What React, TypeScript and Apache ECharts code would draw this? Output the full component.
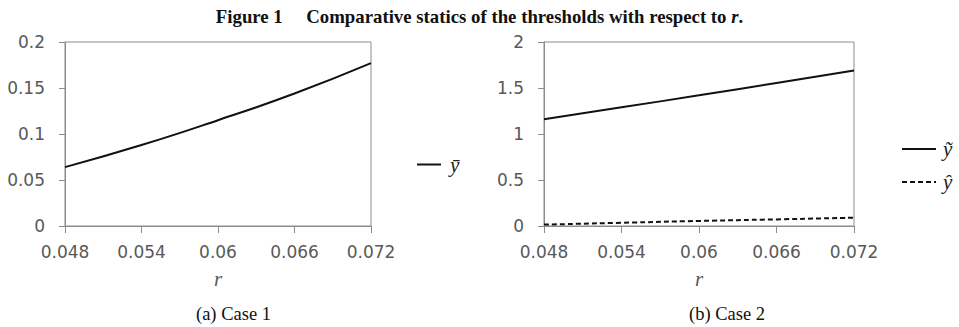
import React, { useEffect, useRef } from "react";
import * as echarts from "echarts";

const rTicks = ["0.048", "0.054", "0.06", "0.066", "0.072"];
const yBarValues = [0.064, 0.088, 0.115, 0.144, 0.177];
const yTildeValues = [1.16, 1.29, 1.42, 1.555, 1.69];
const yHatValues = [0.015, 0.035, 0.055, 0.072, 0.09];
const leftYTicks = { min: 0, max: 0.2, interval: 0.05 };
const rightYTicks = { min: 0, max: 2, interval: 0.5 };

const AXIS_COLOR = "#8c8c8c";
const LABEL_COLOR = "#595959";
const LINE_COLOR = "#111111";

function xAxisFor(gridIndex: number) {
  return {
    type: "category",
    gridIndex,
    data: rTicks,
    boundaryGap: false,
    name: "r",
    nameLocation: "middle",
    nameGap: 42,
    nameTextStyle: {
      fontFamily: "Liberation Serif",
      fontStyle: "italic",
      fontSize: 21,
      color: LABEL_COLOR,
    },
    axisLine: { show: true, lineStyle: { color: AXIS_COLOR, width: 1 } },
    axisTick: { show: true, length: 7, lineStyle: { color: AXIS_COLOR } },
    axisLabel: {
      fontFamily: "DejaVu Sans",
      fontSize: 17,
      color: LABEL_COLOR,
      margin: 17,
    },
    splitLine: { show: false },
  };
}

function yAxisFor(gridIndex: number, t: { min: number; max: number; interval: number }) {
  return {
    type: "value",
    gridIndex,
    min: t.min,
    max: t.max,
    interval: t.interval,
    axisLine: { show: true, lineStyle: { color: AXIS_COLOR, width: 1 } },
    axisTick: { show: true, length: 6, lineStyle: { color: AXIS_COLOR } },
    axisLabel: {
      fontFamily: "DejaVu Sans",
      fontSize: 17,
      color: LABEL_COLOR,
      margin: 20,
      formatter: (v: number) => String(parseFloat(v.toFixed(4))),
    },
    splitLine: { show: false },
  };
}

export default function App() {
  const ref = useRef<HTMLDivElement>(null);
  useEffect(() => {
    if (!ref.current) return;
    const chart = echarts.init(ref.current, undefined, { renderer: "svg" });
    chart.setOption({
      animation: false,
      backgroundColor: "#ffffff",
      title: {
        left: "center",
        top: 2,
        text: "{b|Figure 1\u2003 Comparative statics of the thresholds with respect to }{i|r}{b|.}",
        textStyle: {
          rich: {
            b: { fontFamily: "Liberation Serif", fontWeight: "bold", fontSize: 18.8, color: "#111" },
            i: { fontFamily: "Liberation Serif", fontWeight: "bold", fontStyle: "italic", fontSize: 18.8, color: "#111" },
          },
        },
      },
      grid: [
        { left: 65, width: 306, top: 42, height: 184, show: true, borderColor: AXIS_COLOR, borderWidth: 1, backgroundColor: "transparent" },
        { left: 544, width: 310, top: 42, height: 184, show: true, borderColor: AXIS_COLOR, borderWidth: 1, backgroundColor: "transparent" },
      ],
      xAxis: [xAxisFor(0), xAxisFor(1)],
      yAxis: [yAxisFor(0, leftYTicks), yAxisFor(1, rightYTicks)],
      legend: [
        {
          data: ["ȳ"],
          left: 416,
          top: 154,
          padding: 0,
          orient: "vertical",
          itemWidth: 24,
          itemHeight: 14,
          itemStyle: { opacity: 0 },
          textStyle: { fontFamily: "Liberation Serif", fontStyle: "italic", fontSize: 21, color: "#222", padding: [0, 0, 0, 4] },
        },
        {
          data: ["ỹ", "ŷ"],
          left: 901,
          top: 138,
          padding: 0,
          orient: "vertical",
          itemWidth: 34,
          itemHeight: 14,
          itemGap: 11,
          itemStyle: { opacity: 0 },
          textStyle: { fontFamily: "Liberation Serif", fontStyle: "italic", fontSize: 21, lineHeight: 22, color: "#222", padding: [0, 0, 0, 2] },
        },
      ],
      graphic: [
        {
          type: "text",
          left: 196,
          top: 304,
          style: { text: "(a) Case 1", font: "18.5px 'Liberation Serif'", fill: "#111" },
        },
        {
          type: "text",
          left: 689,
          top: 304,
          style: { text: "(b) Case 2", font: "18.5px 'Liberation Serif'", fill: "#111" },
        },
      ],
      series: [
        {
          name: "ȳ",
          type: "line",
          xAxisIndex: 0,
          yAxisIndex: 0,
          data: yBarValues,
          smooth: true,
          symbol: "none",
          lineStyle: { color: LINE_COLOR, width: 2, type: "solid" },
          itemStyle: { color: LINE_COLOR },
        },
        {
          name: "ỹ",
          type: "line",
          xAxisIndex: 1,
          yAxisIndex: 1,
          data: yTildeValues,
          smooth: true,
          symbol: "none",
          lineStyle: { color: LINE_COLOR, width: 2, type: "solid" },
          itemStyle: { color: LINE_COLOR },
        },
        {
          name: "ŷ",
          type: "line",
          xAxisIndex: 1,
          yAxisIndex: 1,
          data: yHatValues,
          smooth: true,
          symbol: "none",
          lineStyle: { color: LINE_COLOR, width: 2, type: [5, 3] },
          itemStyle: { color: LINE_COLOR },
        },
      ],
    });
    return () => chart.dispose();
  }, []);
  return (
    <div
      ref={ref}
      style={{ position: "fixed", left: 0, top: 0, width: 959, height: 327 }}
    />
  );
}
